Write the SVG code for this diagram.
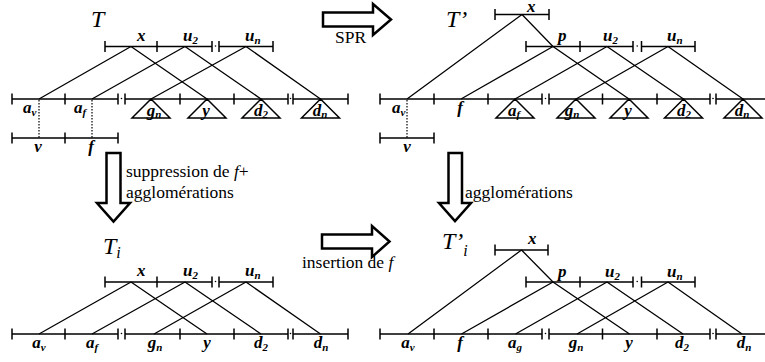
<svg xmlns="http://www.w3.org/2000/svg" width="765" height="362" viewBox="0 0 765 362">
<defs>
<style>
.seg{stroke:#000;stroke-width:1.5;fill:none}
.edge{stroke:#000;stroke-width:1.3;fill:none}
.tri{stroke:#000;stroke-width:1.5;fill:none}
.dot{stroke:#000;stroke-width:1.2;stroke-dasharray:1.5 1.5;fill:none}
.arrow{fill:#fff;stroke:#000;stroke-width:2.5;stroke-linejoin:miter}
text{font-family:'Liberation Serif','Times New Roman','DejaVu Serif',serif;fill:#000}
.lbl{font-weight:bold;font-style:italic;font-size:17px}
.sub{font-size:11px}
.title{font-style:italic;font-size:24px}
.note{font-size:17.5px}
.m{text-anchor:middle}
</style>
</defs>
<rect width="765" height="362" fill="#fff"/>

<!-- ============ Tree T ============ -->
<g id="tree-T">
  <text class="title" x="91" y="27">T</text>
  <g id="T-top">
    <path class="seg" d="M105,46.5H212M219,46.5H273M105,41v11M157,41v11M212,41v11M219,41v11M273,41v11"/>
    <circle cx="215.5" cy="46" r="0.8"/>
    <text class="lbl" x="137" y="41">x</text>
    <text class="lbl" x="183" y="41">u<tspan class="sub" dy="3">2</tspan></text>
    <text class="lbl" x="245" y="41">u<tspan class="sub" dy="3">n</tspan></text>
  </g>
  <g id="T-leaves">
    <path class="seg" d="M12,99H118M125,99H288M293,99H348M12,93.5v11M65,93.5v11M118,93.5v11M125,93.5v11M180,93.5v11M234,93.5v11M288,93.5v11M293,93.5v11M348,93.5v11"/>
    <circle cx="121.5" cy="98.5" r="0.8"/>
    <circle cx="290.5" cy="98.5" r="0.8"/>
    <path class="tri" d="M151,99L132,118H170ZM207,99L188,118H226ZM261,99L242,118H280ZM320.5,99L301.5,118H339.5Z"/>
    <text class="lbl" x="23" y="113">a<tspan class="sub" dy="3">v</tspan></text>
    <text class="lbl" x="74" y="113">a<tspan class="sub" dy="3">f</tspan></text>
    <text class="lbl m" x="154" y="116">g<tspan class="sub" dy="2">n</tspan></text>
    <text class="lbl m" x="206" y="116">y</text>
    <text class="lbl m" x="261" y="116">d<tspan class="sub" dy="2">2</tspan></text>
    <text class="lbl m" x="320" y="116">d<tspan class="sub" dy="2">n</tspan></text>
  </g>
  <g id="T-prune">
    <path class="dot" d="M39,100V138M92,100V138"/>
    <path class="seg" d="M12,138H118M12,132.5v11M65,132.5v11M118,132.5v11"/>
    <text class="lbl m" x="38" y="152">v</text>
    <text class="lbl m" x="91" y="152">f</text>
  </g>
</g>

<!-- ============ Tree T' ============ -->
<g id="tree-Tp">
  <text class="title" x="446" y="27">T’</text>
  <g id="Tp-top">
    <path class="seg" d="M495,14.5H549M495,9v11M549,9v11"/>
    <text class="lbl" x="527" y="12">x</text>
    <path class="seg" d="M526,46.5H633M641.5,46.5H695M526,41v11M580,41v11M633,41v11M641.5,41v11M695,41v11"/>
    <circle cx="637.2" cy="46" r="0.8"/>
    <text class="lbl" x="558" y="41">p</text>
    <text class="lbl" x="603" y="41">u<tspan class="sub" dy="3">2</tspan></text>
    <text class="lbl" x="667" y="41">u<tspan class="sub" dy="3">n</tspan></text>
  </g>
  <g id="Tp-leaves">
    <path class="seg" d="M380,99H542M549,99H710M716,99H770M380,93.5v11M434,93.5v11M488,93.5v11M542,93.5v11M549,93.5v11M602.5,93.5v11M657,93.5v11M710,93.5v11M716,93.5v11"/>
    <circle cx="545.5" cy="98.5" r="0.8"/>
    <circle cx="713" cy="98.5" r="0.8"/>
    <path class="tri" d="M515,99L496,118H534ZM576,99L557,118H595ZM629,99L610,118H648ZM683.5,99L664.5,118H702.5ZM743,99L724,118H762Z"/>
    <text class="lbl" x="392" y="113">a<tspan class="sub" dy="3">v</tspan></text>
    <text class="lbl m" x="460" y="113">f</text>
    <text class="lbl m" x="514" y="116">a<tspan class="sub" dy="2">f</tspan></text>
    <text class="lbl m" x="572" y="116">g<tspan class="sub" dy="2">n</tspan></text>
    <text class="lbl m" x="628" y="116">y</text>
    <text class="lbl m" x="684" y="116">d<tspan class="sub" dy="2">2</tspan></text>
    <text class="lbl m" x="742" y="116">d<tspan class="sub" dy="2">n</tspan></text>
  </g>
  <g id="Tp-prune">
    <path class="dot" d="M407,100V138"/>
    <path class="seg" d="M380,138H434M380,132.5v11M434,132.5v11"/>
    <text class="lbl m" x="407" y="152">v</text>
  </g>
</g>

<!-- ============ Tree T_i ============ -->
<g id="tree-Ti">
  <text class="title" x="103" y="254">T<tspan font-size="16" dy="4">i</tspan></text>
  <g id="Ti-top">
    <path class="seg" d="M105,282H212M219,282H273M105,276.5v11M157,276.5v11M212,276.5v11M219,276.5v11M273,276.5v11"/>
    <circle cx="215.5" cy="281.5" r="0.8"/>
    <text class="lbl" x="137" y="276">x</text>
    <text class="lbl" x="183" y="276">u<tspan class="sub" dy="3">2</tspan></text>
    <text class="lbl" x="245" y="276">u<tspan class="sub" dy="3">n</tspan></text>
  </g>
  <g id="Ti-leaves">
    <path class="seg" d="M12,334H118M125,334H288M293,334H348M12,328.5v11M65,328.5v11M118,328.5v11M125,328.5v11M180,328.5v11M234,328.5v11M288,328.5v11M293,328.5v11M348,328.5v11"/>
    <circle cx="121.5" cy="333.5" r="0.8"/>
    <circle cx="290.5" cy="333.5" r="0.8"/>
    <text class="lbl m" x="39" y="348">a<tspan class="sub" dy="3">v</tspan></text>
    <text class="lbl m" x="92" y="348">a<tspan class="sub" dy="3">f</tspan></text>
    <text class="lbl m" x="155" y="348">g<tspan class="sub" dy="3">n</tspan></text>
    <text class="lbl m" x="207" y="348">y</text>
    <text class="lbl m" x="261" y="348">d<tspan class="sub" dy="3">2</tspan></text>
    <text class="lbl m" x="321" y="348">d<tspan class="sub" dy="3">n</tspan></text>
  </g>
</g>

<!-- ============ Tree T'_i ============ -->
<g id="tree-Tpi">
  <text class="title" x="442" y="249">T’<tspan font-size="16" dy="7">i</tspan></text>
  <g id="Tpi-top">
    <path class="seg" d="M495,250H548M495,244.5v11M548,244.5v11"/>
    <text class="lbl" x="528" y="244">x</text>
    <path class="seg" d="M526,282H633M641.5,282H695M526,276.5v11M580,276.5v11M633,276.5v11M641.5,276.5v11M695,276.5v11"/>
    <circle cx="637.2" cy="281.5" r="0.8"/>
    <text class="lbl" x="558" y="277">p</text>
    <text class="lbl" x="605" y="277">u<tspan class="sub" dy="3">2</tspan></text>
    <text class="lbl" x="667" y="277">u<tspan class="sub" dy="3">n</tspan></text>
  </g>
  <g id="Tpi-leaves">
    <path class="seg" d="M380,334H542M549,334H710M716,334H770M380,328.5v11M434,328.5v11M488,328.5v11M542,328.5v11M549,328.5v11M602.5,328.5v11M657,328.5v11M710,328.5v11M716,328.5v11"/>
    <circle cx="545.5" cy="333.5" r="0.8"/>
    <circle cx="713" cy="333.5" r="0.8"/>
    <text class="lbl m" x="408" y="348">a<tspan class="sub" dy="3">v</tspan></text>
    <text class="lbl m" x="460" y="348">f</text>
    <text class="lbl m" x="515" y="348">a<tspan class="sub" dy="3">g</tspan></text>
    <text class="lbl m" x="576" y="348">g<tspan class="sub" dy="3">n</tspan></text>
    <text class="lbl m" x="629" y="348">y</text>
    <text class="lbl m" x="682" y="348">d<tspan class="sub" dy="3">2</tspan></text>
    <text class="lbl m" x="744" y="348">d<tspan class="sub" dy="3">n</tspan></text>
  </g>
</g>

<!-- ============ Connectors ============ -->
<g id="connectors">
  <path class="edge" d="M131,46.5L39,99M131,46.5L207,99M185,46.5L92,99M185,46.5L261,99M246,46.5L151,99M246,46.5L320.5,99"/>
  <path class="edge" d="M522,14.5L407,99M522,14.5L553,46.5L629,99M553,46.5L461,99M607,46.5L515,99M607,46.5L683.5,99M668,46.5L576,99M668,46.5L743,99"/>
  <path class="edge" d="M131,282L39,334M131,282L207,334M185,282L92,334M185,282L261,334M246,282L154,334M246,282L320.5,334"/>
  <path class="edge" d="M521.5,250L408,334M521.5,250L553,282L629.5,334M553,282L461.5,334M607,282L515.5,334M607,282L683,334M668,282L577,334M668,282L742,334"/>
  <g id="arrow-spr">
    <polygon class="arrow" points="323,12.5 373,12.5 373,4 391,19.5 373,35 373,26.5 323,26.5"/>
    <text class="note" x="335" y="43">SPR</text>
  </g>
  <g id="arrow-suppression">
    <polygon class="arrow" points="106.5,153 120.5,153 120.5,203 130,203 113.5,221.5 97,203 106.5,203"/>
    <text class="note" x="126" y="177">suppression de <tspan font-style="italic">f</tspan>+</text>
    <text class="note" x="126" y="198">agglomérations</text>
  </g>
  <g id="arrow-agglo">
    <polygon class="arrow" points="448.5,153 462,153 462,203 471,203 455,221 439,203 448.5,203"/>
    <text class="note" x="465" y="198">agglomérations</text>
  </g>
  <g id="arrow-insertion">
    <polygon class="arrow" points="322,234.5 372,234.5 372,226 389.5,241.5 372,257 372,248.5 322,248.5"/>
    <text class="note" x="302" y="268">insertion de <tspan font-style="italic">f</tspan></text>
  </g>
</g>
</svg>
